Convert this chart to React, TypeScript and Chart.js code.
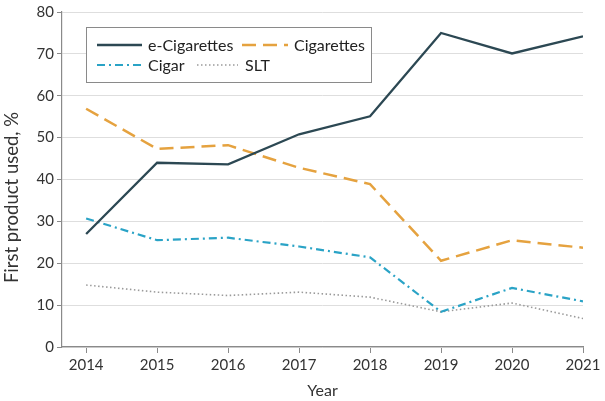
import React, { useEffect, useRef } from "react";
import { Chart, registerables } from "chart.js";

Chart.register(...registerables);

const years = [2014, 2015, 2016, 2017, 2018, 2019, 2020, 2021];
const eCigarettes = [27.0, 44.0, 43.6, 50.8, 55.1, 75.0, 70.1, 74.2];
const cigarettes = [56.9, 47.3, 48.2, 42.8, 38.9, 20.6, 25.5, 23.7];
const cigar = [30.7, 25.5, 26.1, 24.0, 21.4, 8.4, 14.1, 10.9];
const slt = [14.8, 13.1, 12.3, 13.1, 11.9, 8.4, 10.5, 6.8];
const yTicks = [0, 10, 20, 30, 40, 50, 60, 70, 80];
const yTitle = "First product used, %";
const xTitle = "Year";

const FONT = "Lato, 'Open Sans', sans-serif";

const seriesDefs = [
  { label: "e-Cigarettes", data: eCigarettes, color: "#2c4853", dash: [] as number[], width: 2.3 },
  { label: "Cigarettes", data: cigarettes, color: "#e5a23f", dash: [14, 7], width: 2.5 },
  { label: "Cigar", data: cigar, color: "#2aa3c6", dash: [8, 4, 2, 4], width: 2.2 },
  { label: "SLT", data: slt, color: "#9a9a9a", dash: [1.5, 2.5], width: 1.6 },
];

const yTitlePlugin = {
  id: "yTitle",
  afterDraw(chart: any) {
    const ctx = chart.ctx;
    ctx.save();
    ctx.translate(12, chart.height / 2 - 3);
    ctx.rotate(-Math.PI / 2);
    ctx.font = `18.5px ${FONT}`;
    ctx.fillStyle = "#333";
    ctx.textAlign = "center";
    ctx.textBaseline = "middle";
    ctx.fillText(yTitle, 0, 0);
    ctx.restore();
  },
};

const legendPlugin = {
  id: "boxLegend",
  afterDraw(chart: any) {
    const ctx = chart.ctx;
    const ca = chart.chartArea;
    const x0 = ca.left + 24;
    const y0 = ca.top + 15;
    const w = 285;
    const h = 55;
    ctx.save();
    ctx.fillStyle = "#ffffff";
    ctx.fillRect(x0, y0, w, h);
    ctx.strokeStyle = "#8a8a8a";
    ctx.lineWidth = 1;
    ctx.strokeRect(x0 + 0.5, y0 + 0.5, w, h);
    const items = [
      { s: seriesDefs[0], lx: 11, len: 45, tx: 62, row: 0 },
      { s: seriesDefs[1], lx: 156, len: 46, tx: 208, row: 0 },
      { s: seriesDefs[2], lx: 11, len: 45, tx: 62, row: 1 },
      { s: seriesDefs[3], lx: 111, len: 41, tx: 159, row: 1 },
    ];
    ctx.font = `16px ${FONT}`;
    ctx.textBaseline = "middle";
    ctx.textAlign = "left";
    for (const it of items) {
      const y = y0 + 18 + it.row * 20;
      ctx.beginPath();
      ctx.setLineDash(it.s.dash);
      ctx.strokeStyle = it.s.color;
      ctx.lineWidth = it.s.width;
      ctx.moveTo(x0 + it.lx, y);
      ctx.lineTo(x0 + it.lx + it.len, y);
      ctx.stroke();
      ctx.setLineDash([]);
      ctx.fillStyle = "#222222";
      ctx.fillText(it.s.label, x0 + it.tx, y + 1);
    }
    ctx.restore();
  },
};

export default function App() {
  const ref = useRef<HTMLCanvasElement | null>(null);
  useEffect(() => {
    document.body.style.margin = "0";
    const canvas = ref.current!;
    const chart = new Chart(canvas, {
      type: "line",
      data: {
        datasets: seriesDefs.map((s) => ({
          label: s.label,
          data: years.map((yr, i) => ({ x: yr, y: s.data[i] })),
          borderColor: s.color,
          borderDash: s.dash,
          borderWidth: s.width,
          pointRadius: 0,
          fill: false,
          tension: 0,
        })),
      },
      options: {
        animation: false,
        responsive: false,
        maintainAspectRatio: false,
        layout: { padding: { top: 9, right: 22, left: 0, bottom: 0 } },
        plugins: { legend: { display: false }, tooltip: { enabled: false } },
        scales: {
          x: {
            type: "linear",
            min: 2013.66,
            max: 2021,
            afterBuildTicks: (scale: any) => {
              scale.ticks = years.map((v) => ({ value: v }));
            },
            afterFit: (scale: any) => {
              scale.height = 54;
            },
            ticks: {
              callback: (v: any) => String(v),
              color: "#333",
              font: { family: FONT, size: 15 },
              padding: 3,
              maxRotation: 0,
              autoSkip: false,
            },
            grid: { drawOnChartArea: false, tickLength: 6, color: "#8a8a8a", tickColor: "#8a8a8a" },
            border: { color: "#8a8a8a", width: 1.2 },
            title: {
              display: true,
              text: xTitle,
              color: "#333",
              font: { family: FONT, size: 16 },
              padding: { top: 0, bottom: 1 },
            },
          },
          y: {
            type: "linear",
            min: 0,
            max: 80,
            afterBuildTicks: (scale: any) => {
              scale.ticks = yTicks.map((v) => ({ value: v }));
            },
            afterFit: (scale: any) => {
              scale.width = 62;
            },
            ticks: {
              color: "#333",
              font: { family: FONT, size: 15 },
              padding: 3,
            },
            grid: { color: "#dedede", lineWidth: 1, tickLength: 5, tickColor: "#8a8a8a" },
            border: { color: "#8a8a8a", width: 1.2 },
            title: { display: false },
          },
        },
      },
      plugins: [legendPlugin, yTitlePlugin],
    } as any);
    return () => chart.destroy();
  }, []);
  return <canvas ref={ref} width={605} height={401} style={{ display: "block" }} />;
}
